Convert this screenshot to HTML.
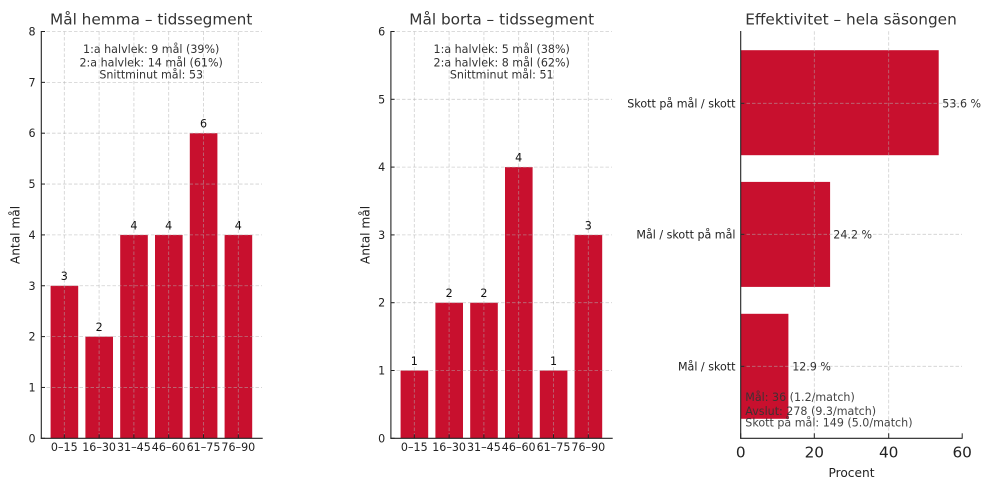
<!DOCTYPE html>
<html>
<head>
<meta charset="utf-8">
<style>
  html, body { margin:0; padding:0; background:#fff; }
  svg { display:block; }
  text { font-family: "DejaVu Sans", "Liberation Sans", sans-serif; }
</style>
</head>
<body>
<svg width="990" height="489" viewBox="0 0 990 489" xmlns="http://www.w3.org/2000/svg">
  <rect width="990" height="489" fill="#fff"/>

  <!-- ============ Chart 1: Mål hemma ============ -->
  <text x="151.2" y="24.3" font-size="15.3" fill="#333" text-anchor="middle">Mål hemma – tidssegment</text>

  <g fill="#C8102E">
    <rect x="50.6" y="285.75" width="27.6" height="152.55"/>
    <rect x="85.4" y="336.6" width="27.6" height="101.7"/>
    <rect x="120.2" y="234.9" width="27.6" height="203.4"/>
    <rect x="155.0" y="234.9" width="27.6" height="203.4"/>
    <rect x="189.8" y="133.2" width="27.6" height="305.1"/>
    <rect x="224.6" y="234.9" width="27.6" height="203.4"/>
  </g>

  <g stroke="#b0b0b0" stroke-opacity="0.6" stroke-width="0.8" stroke-dasharray="3.5,2" fill="none">
    <line x1="41" y1="387.45" x2="262" y2="387.45"/>
    <line x1="41" y1="336.6" x2="262" y2="336.6"/>
    <line x1="41" y1="285.75" x2="262" y2="285.75"/>
    <line x1="41" y1="234.9" x2="262" y2="234.9"/>
    <line x1="41" y1="184.05" x2="262" y2="184.05"/>
    <line x1="41" y1="133.2" x2="262" y2="133.2"/>
    <line x1="41" y1="82.35" x2="262" y2="82.35"/>
    <line x1="41" y1="31.5" x2="262" y2="31.5"/>
    <line x1="64.3" y1="31.5" x2="64.3" y2="438"/>
    <line x1="99.1" y1="31.5" x2="99.1" y2="438"/>
    <line x1="133.9" y1="31.5" x2="133.9" y2="438"/>
    <line x1="168.7" y1="31.5" x2="168.7" y2="438"/>
    <line x1="203.5" y1="31.5" x2="203.5" y2="438"/>
    <line x1="238.3" y1="31.5" x2="238.3" y2="438"/>
  </g>

  <g stroke="#222" stroke-width="1.1">
    <line x1="41.3" y1="31" x2="41.3" y2="438.8"/>
    <line x1="40.8" y1="438.3" x2="262.7" y2="438.3"/>
  </g>
  <g stroke="#222" stroke-width="1">
    <line x1="41.3" y1="438.3" x2="45" y2="438.3"/>
    <line x1="41.3" y1="387.45" x2="45" y2="387.45"/>
    <line x1="41.3" y1="336.6" x2="45" y2="336.6"/>
    <line x1="41.3" y1="285.75" x2="45" y2="285.75"/>
    <line x1="41.3" y1="234.9" x2="45" y2="234.9"/>
    <line x1="41.3" y1="184.05" x2="45" y2="184.05"/>
    <line x1="41.3" y1="133.2" x2="45" y2="133.2"/>
    <line x1="41.3" y1="82.35" x2="45" y2="82.35"/>
    <line x1="41.3" y1="31.5" x2="45" y2="31.5"/>
    <line x1="64.3" y1="438.3" x2="64.3" y2="434.3"/>
    <line x1="99.1" y1="438.3" x2="99.1" y2="434.3"/>
    <line x1="133.9" y1="438.3" x2="133.9" y2="434.3"/>
    <line x1="168.7" y1="438.3" x2="168.7" y2="434.3"/>
    <line x1="203.5" y1="438.3" x2="203.5" y2="434.3"/>
    <line x1="238.3" y1="438.3" x2="238.3" y2="434.3"/>
  </g>
  <g font-size="11.1" fill="#222" text-anchor="end">
    <text x="35.5" y="442.3">0</text>
    <text x="35.5" y="391.5">1</text>
    <text x="35.5" y="340.6">2</text>
    <text x="35.5" y="289.8">3</text>
    <text x="35.5" y="238.9">4</text>
    <text x="35.5" y="188.1">5</text>
    <text x="35.5" y="137.2">6</text>
    <text x="35.5" y="86.4">7</text>
    <text x="35.5" y="35.5">8</text>
  </g>
  <g font-size="11.1" fill="#222" text-anchor="middle">
    <text x="64.3" y="451.2">0–15</text>
    <text x="99.1" y="451.2">16–30</text>
    <text x="133.9" y="451.2">31–45</text>
    <text x="168.7" y="451.2">46–60</text>
    <text x="203.5" y="451.2">61–75</text>
    <text x="238.3" y="451.2">76–90</text>
  </g>
  <text transform="translate(19.5,235) rotate(-90)" font-size="12.2" fill="#222" text-anchor="middle">Antal mål</text>
  <g font-size="11.1" fill="#111" text-anchor="middle">
    <text x="64.3" y="280.2">3</text>
    <text x="99.1" y="331.1">2</text>
    <text x="133.9" y="229.4">4</text>
    <text x="168.7" y="229.4">4</text>
    <text x="203.5" y="127.7">6</text>
    <text x="238.3" y="229.4">4</text>
  </g>
  <g font-size="11.1" fill="#333" text-anchor="middle">
    <text x="151.2" y="52.8">1:a halvlek: 9 mål (39%)</text>
    <text x="151.2" y="66.6">2:a halvlek: 14 mål (61%)</text>
    <text x="151.2" y="78.5">Snittminut mål: 53</text>
  </g>

  <!-- ============ Chart 2: Mål borta ============ -->
  <text x="501.7" y="24.3" font-size="15.3" fill="#333" text-anchor="middle">Mål borta – tidssegment</text>

  <g fill="#C8102E">
    <rect x="400.6" y="370.5" width="27.6" height="67.8"/>
    <rect x="435.4" y="302.7" width="27.6" height="135.6"/>
    <rect x="470.2" y="302.7" width="27.6" height="135.6"/>
    <rect x="505.0" y="167.1" width="27.6" height="271.2"/>
    <rect x="539.8" y="370.5" width="27.6" height="67.8"/>
    <rect x="574.6" y="234.9" width="27.6" height="203.4"/>
  </g>

  <g stroke="#b0b0b0" stroke-opacity="0.6" stroke-width="0.8" stroke-dasharray="3.5,2" fill="none">
    <line x1="391" y1="370.5" x2="612" y2="370.5"/>
    <line x1="391" y1="302.7" x2="612" y2="302.7"/>
    <line x1="391" y1="234.9" x2="612" y2="234.9"/>
    <line x1="391" y1="167.1" x2="612" y2="167.1"/>
    <line x1="391" y1="99.3" x2="612" y2="99.3"/>
    <line x1="391" y1="31.5" x2="612" y2="31.5"/>
    <line x1="414.3" y1="31.5" x2="414.3" y2="438"/>
    <line x1="449.1" y1="31.5" x2="449.1" y2="438"/>
    <line x1="483.9" y1="31.5" x2="483.9" y2="438"/>
    <line x1="518.7" y1="31.5" x2="518.7" y2="438"/>
    <line x1="553.5" y1="31.5" x2="553.5" y2="438"/>
    <line x1="588.3" y1="31.5" x2="588.3" y2="438"/>
  </g>

  <g stroke="#222" stroke-width="1.1">
    <line x1="390.9" y1="31" x2="390.9" y2="438.8"/>
    <line x1="390.4" y1="438.3" x2="612.7" y2="438.3"/>
  </g>
  <g stroke="#222" stroke-width="1">
    <line x1="390.9" y1="438.3" x2="394.6" y2="438.3"/>
    <line x1="390.9" y1="370.5" x2="394.6" y2="370.5"/>
    <line x1="390.9" y1="302.7" x2="394.6" y2="302.7"/>
    <line x1="390.9" y1="234.9" x2="394.6" y2="234.9"/>
    <line x1="390.9" y1="167.1" x2="394.6" y2="167.1"/>
    <line x1="390.9" y1="99.3" x2="394.6" y2="99.3"/>
    <line x1="390.9" y1="31.5" x2="394.6" y2="31.5"/>
    <line x1="414.3" y1="438.3" x2="414.3" y2="434.3"/>
    <line x1="449.1" y1="438.3" x2="449.1" y2="434.3"/>
    <line x1="483.9" y1="438.3" x2="483.9" y2="434.3"/>
    <line x1="518.7" y1="438.3" x2="518.7" y2="434.3"/>
    <line x1="553.5" y1="438.3" x2="553.5" y2="434.3"/>
    <line x1="588.3" y1="438.3" x2="588.3" y2="434.3"/>
  </g>
  <g font-size="11.1" fill="#222" text-anchor="end">
    <text x="385.2" y="442.3">0</text>
    <text x="385.2" y="374.5">1</text>
    <text x="385.2" y="306.7">2</text>
    <text x="385.2" y="238.9">3</text>
    <text x="385.2" y="171.1">4</text>
    <text x="385.2" y="103.3">5</text>
    <text x="385.2" y="35.5">6</text>
  </g>
  <g font-size="11.1" fill="#222" text-anchor="middle">
    <text x="414.3" y="451.2">0–15</text>
    <text x="449.1" y="451.2">16–30</text>
    <text x="483.9" y="451.2">31–45</text>
    <text x="518.7" y="451.2">46–60</text>
    <text x="553.5" y="451.2">61–75</text>
    <text x="588.3" y="451.2">76–90</text>
  </g>
  <text transform="translate(369.5,235) rotate(-90)" font-size="12.2" fill="#222" text-anchor="middle">Antal mål</text>
  <g font-size="11.1" fill="#111" text-anchor="middle">
    <text x="414.3" y="365">1</text>
    <text x="449.1" y="297.2">2</text>
    <text x="483.9" y="297.2">2</text>
    <text x="518.7" y="161.6">4</text>
    <text x="553.5" y="365">1</text>
    <text x="588.3" y="229.4">3</text>
  </g>
  <g font-size="11.1" fill="#333" text-anchor="middle">
    <text x="501.7" y="52.8">1:a halvlek: 5 mål (38%)</text>
    <text x="501.7" y="66.6">2:a halvlek: 8 mål (62%)</text>
    <text x="501.7" y="78.5">Snittminut mål: 51</text>
  </g>

  <!-- ============ Chart 3: Effektivitet ============ -->
  <text x="851" y="24.3" font-size="15.3" fill="#333" text-anchor="middle">Effektivitet – hela säsongen</text>

  <g fill="#C8102E">
    <rect x="740.7" y="50.2" width="198" height="105"/>
    <rect x="740.7" y="181.9" width="89.4" height="105"/>
    <rect x="740.7" y="313.8" width="47.7" height="105"/>
  </g>

  <g stroke="#b0b0b0" stroke-opacity="0.6" stroke-width="0.8" stroke-dasharray="3.5,2" fill="none">
    <line x1="814.3" y1="31.3" x2="814.3" y2="438"/>
    <line x1="888.7" y1="31.3" x2="888.7" y2="438"/>
    <line x1="741" y1="103.3" x2="962" y2="103.3"/>
    <line x1="741" y1="234.3" x2="962" y2="234.3"/>
    <line x1="741" y1="366.3" x2="962" y2="366.3"/>
  </g>

  <g stroke="#222" stroke-width="1.1">
    <line x1="740.7" y1="31" x2="740.7" y2="438.8"/>
    <line x1="740.2" y1="438.3" x2="962.6" y2="438.3"/>
  </g>
  <g stroke="#222" stroke-width="1">
    <line x1="740.7" y1="103.3" x2="744.4" y2="103.3"/>
    <line x1="740.7" y1="234.3" x2="744.4" y2="234.3"/>
    <line x1="740.7" y1="366.3" x2="744.4" y2="366.3"/>
    <line x1="740.7" y1="438.3" x2="740.7" y2="433.3"/>
    <line x1="814.3" y1="438.3" x2="814.3" y2="433.3"/>
    <line x1="888.7" y1="438.3" x2="888.7" y2="433.3"/>
    <line x1="962.2" y1="438.3" x2="962.2" y2="433.3"/>
  </g>
  <g font-size="11.1" fill="#222" text-anchor="end">
    <text x="735.5" y="107.3">Skott på mål / skott</text>
    <text x="735.5" y="238.3">Mål / skott på mål</text>
    <text x="735.5" y="370.3">Mål / skott</text>
  </g>
  <g font-size="15.3" fill="#222" text-anchor="middle">
    <text x="740.7" y="457.3">0</text>
    <text x="814.3" y="457.3">20</text>
    <text x="888.7" y="457.3">40</text>
    <text x="962.2" y="457.3">60</text>
  </g>
  <text x="851.5" y="477.2" font-size="12.2" fill="#222" text-anchor="middle">Procent</text>

  <g font-size="11.1" fill="#333">
    <text x="942.3" y="107.3">53.6 %</text>
    <text x="833.3" y="238.3">24.2 %</text>
    <text x="792.2" y="370.3">12.9 %</text>
  </g>
  <g font-size="11.1" fill="#333" fill-opacity="0.92">
    <text x="745.3" y="401">Mål: 36 (1.2/match)</text>
    <text x="745.3" y="414.8">Avslut: 278 (9.3/match)</text>
    <text x="745.3" y="426.6">Skott på mål: 149 (5.0/match)</text>
  </g>
</svg>
</body>
</html>
